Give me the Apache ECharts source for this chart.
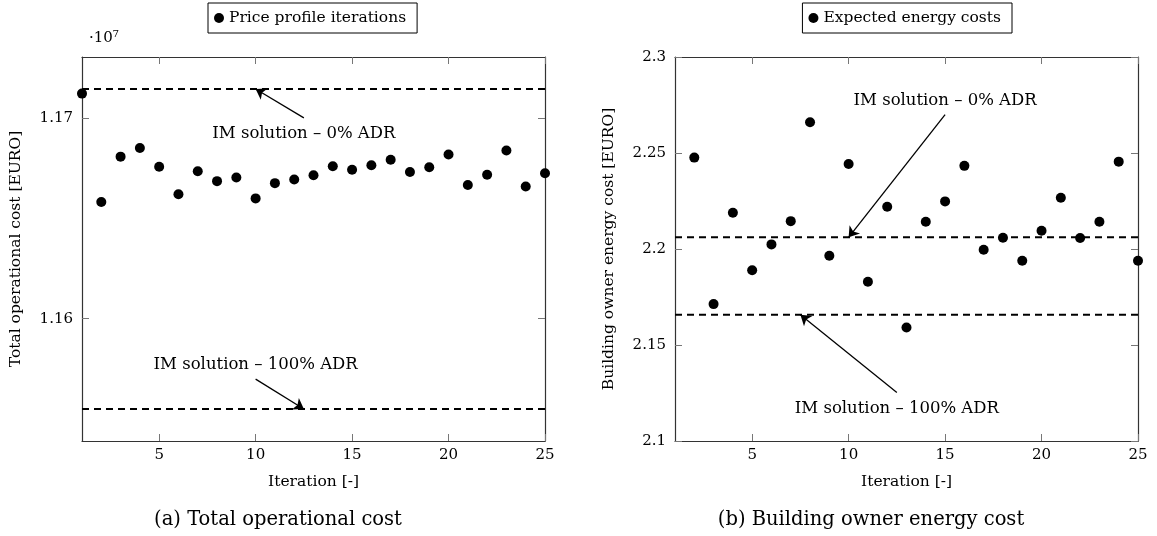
<!DOCTYPE html>
<html>
<head>
<meta charset="utf-8">
<script src="https://cdn.jsdelivr.net/npm/echarts@6/dist/echarts.min.js"></script>
<style>
  html, body { margin: 0; padding: 0; background: #fff; }
  #chart { width: 1157px; height: 536px; }
</style>
</head>
<body>
<div id="chart"></div>
<script>
// (a) total operational cost, values in 10^7 EURO
const iterations = [1, 2, 3, 4, 5, 6, 7, 8, 9, 10, 11, 12, 13, 14, 15, 16, 17, 18, 19, 20, 21, 22, 23, 24, 25]
const totalCost = [1.17121, 1.16581, 1.16807, 1.16850, 1.16757, 1.16620, 1.16734, 1.16685, 1.16703, 1.16599,
  1.16675, 1.16693, 1.16714, 1.16759, 1.16742, 1.16764, 1.16792, 1.16731, 1.16754, 1.16818,
  1.16666, 1.16717, 1.16838, 1.16658, 1.16724]
const totalRef = [1.17144, 1.1555] // IM solution 0% ADR / 100% ADR
const totalTicks = [1.16, 1.17]

// (b) building owner energy cost
const energyIterations = [2, 3, 4, 5, 6, 7, 8, 9, 10, 11, 12, 13, 14, 15, 16, 17, 18, 19, 20, 21, 22, 23, 24, 25]
const energyCost = [2.2476, 2.1713, 2.2189, 2.1889, 2.2024, 2.2145, 2.2660, 2.1965, 2.2443, 2.1829,
  2.2220, 2.1591, 2.2142, 2.2248, 2.2433, 2.1996, 2.2059, 2.1939, 2.2095, 2.2267,
  2.2057, 2.2142, 2.2455, 2.1939]
const energyRef = [2.2061, 2.1657]
const energyTicks = [2.1, 2.15, 2.2, 2.25, 2.3]

const iterTicks = [5, 10, 15, 20, 25]
const refLabels = ['IM solution – 0% ADR', 'IM solution – 100% ADR']

// annotations in data coords: text centre, arrow start, arrow tip
const totalNotePos = [[12.5, 1.16919], [10, 1.1577]]
const totalArrowFrom = [[12.5, 1.17], [10, 1.15699]]
const totalArrowTo = [[10, 1.17144], [12.5, 1.1555]]
const energyNotePos = [[15, 2.2774], [12.5, 2.1169]]
const energyArrowFrom = [[15, 2.27], [12.5, 2.1253]]
const energyArrowTo = [[10, 2.2061], [7.5, 2.1657]]

const FONT = 'DejaVu Serif'
const BOX = '#333'
const TICK = '#777'

function xAxes(grid) {
  const base = {
    type: 'value', gridIndex: grid, min: 1, max: 25,
    splitLine: { show: false },
    axisLine: { show: true, onZero: false, lineStyle: { color: BOX, width: 1.2 } },
    axisTick: { show: true, inside: true, length: 7, customValues: iterTicks, lineStyle: { color: TICK } }
  }
  return [
    Object.assign({}, base, {
      position: 'bottom',
      name: 'Iteration [-]', nameLocation: 'middle', nameGap: 33,
      nameTextStyle: { fontFamily: FONT, fontSize: 15.5, color: '#000' },
      axisLabel: { customValues: iterTicks, margin: 7, fontFamily: FONT, fontSize: 15, color: '#000' }
    }),
    Object.assign({}, base, { position: 'top', axisLabel: { show: false } })
  ]
}

function yAxes(grid, min, max, ticks, name) {
  const base = {
    type: 'value', gridIndex: grid, min: min, max: max,
    splitLine: { show: false },
    axisLine: { show: true, onZero: false, lineStyle: { color: BOX, width: 1.2 } },
    axisTick: { show: true, inside: true, length: 7, customValues: ticks, lineStyle: { color: TICK } }
  }
  return [
    Object.assign({}, base, {
      position: 'left',
      name: name, nameLocation: 'middle', nameRotate: 90, nameGap: 58,
      nameTextStyle: { fontFamily: FONT, fontSize: 15.5, color: '#000' },
      axisLabel: {
        customValues: ticks, margin: 9, fontFamily: FONT, fontSize: 15, color: '#000',
        formatter: v => String(Number(v.toFixed(2)))
      }
    }),
    Object.assign({}, base, { position: 'right', axisLabel: { show: false } })
  ]
}

function refSeries(axis, value) {
  return {
    type: 'line', xAxisIndex: axis, yAxisIndex: axis, silent: true,
    symbol: 'none',
    lineStyle: { color: '#000', width: 2, type: [7, 5] },
    data: [[iterations[0], value], [iterations[iterations.length - 1], value]]
  }
}

function noteSeries(axis, pos, from, to) {
  return {
    type: 'scatter', xAxisIndex: axis, yAxisIndex: axis, silent: true,
    symbolSize: 1,
    itemStyle: { color: 'transparent', opacity: 1 },
    label: { show: true, position: 'inside', formatter: p => p.name, fontFamily: FONT, fontSize: 16.5, color: '#000' },
    data: pos.map((p, i) => ({ name: refLabels[i], value: p })),
    markLine: {
      silent: true, animation: false,
      symbol: ['none', 'arrow'], symbolSize: 10,
      label: { show: false },
      lineStyle: { color: '#000', width: 1.3, type: 'solid', opacity: 1 },
      itemStyle: { color: '#000' },
      data: from.map((f, i) => [{ coord: f }, { coord: to[i] }])
    }
  }
}

function legendFor(name, pos) {
  return Object.assign({
    top: 3, data: [name],
    icon: 'circle', itemWidth: 10, itemHeight: 10,
    borderColor: '#000', borderWidth: 1, borderRadius: 0, padding: [7, 11, 7, 6],
    textStyle: { fontFamily: FONT, fontSize: 15.5, color: '#000' }
  }, pos)
}

const chart = echarts.init(document.getElementById('chart'))
chart.setOption({
  animation: false,
  backgroundColor: '#fff',
  grid: [
    { left: 82, top: 57, width: 463, height: 384, outerBoundsMode: 'none' },
    { left: 675, top: 57, width: 463, height: 384, outerBoundsMode: 'none' }
  ],
  legend: [
    legendFor('Price profile iterations', { left: 208 }),
    legendFor('Expected energy costs', { right: 145 })
  ],
  xAxis: xAxes(0).concat(xAxes(1)),
  yAxis: yAxes(0, 1.153906, 1.173034, totalTicks, 'Total operational cost [EURO]')
    .concat(yAxes(1, 2.1, 2.3, energyTicks, 'Building owner energy cost [EURO]')),
  graphic: [
    { type: 'text', left: 89, top: 31, style: { text: '·10⁷', font: '15px "DejaVu Serif"', fill: '#000' } },
    { type: 'text', x: 278, y: 520, style: { text: '(a) Total operational cost', font: '19.5px "DejaVu Serif"', fill: '#000', align: 'center', verticalAlign: 'middle' } },
    { type: 'text', x: 871, y: 520, style: { text: '(b) Building owner energy cost', font: '19.5px "DejaVu Serif"', fill: '#000', align: 'center', verticalAlign: 'middle' } }
  ],
  series: [
    refSeries(0, totalRef[0]),
    refSeries(0, totalRef[1]),
    {
      name: 'Price profile iterations', type: 'scatter', xAxisIndex: 0, yAxisIndex: 0,
      symbolSize: 10, itemStyle: { color: '#000', opacity: 1 },
      data: iterations.map((x, i) => [x, totalCost[i]])
    },
    noteSeries(0, totalNotePos, totalArrowFrom, totalArrowTo),
    refSeries(2, energyRef[0]),
    refSeries(2, energyRef[1]),
    {
      name: 'Expected energy costs', type: 'scatter', xAxisIndex: 2, yAxisIndex: 2,
      symbolSize: 10, itemStyle: { color: '#000', opacity: 1 },
      data: energyIterations.map((x, i) => [x, energyCost[i]])
    },
    noteSeries(2, energyNotePos, energyArrowFrom, energyArrowTo)
  ]
})
</script>
</body>
</html>
